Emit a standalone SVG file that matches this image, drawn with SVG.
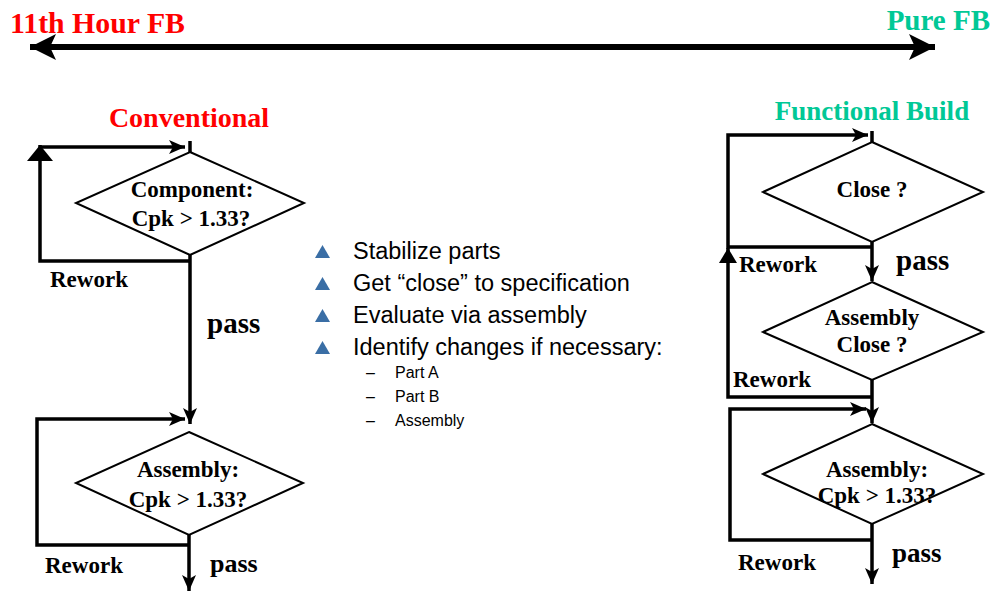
<svg xmlns="http://www.w3.org/2000/svg" width="994" height="592" viewBox="0 0 994 592">
<style>
.b{font-family:"Liberation Serif","Times New Roman",serif;font-weight:bold;fill:#000}
.s{font-family:"Liberation Sans",Arial,sans-serif;fill:#000}
.c{text-anchor:middle}
.ln{fill:none;stroke:#000;stroke-width:3.5}
.dm{fill:#fff;stroke:#000;stroke-width:2}
.tri{fill:#3A6EA5}
</style>
<defs>
<marker id="ah" viewBox="0 0 16 14" refX="16" refY="7" markerWidth="16" markerHeight="14" markerUnits="userSpaceOnUse" orient="auto"><path d="M0,0 L16,7 L0,14 L4,7 z" fill="#000"/></marker>
<marker id="mid" viewBox="0 0 15 18" refX="15" refY="9" markerWidth="15" markerHeight="18" markerUnits="userSpaceOnUse" orient="auto"><path d="M0,0 L15,9 L0,18 z" fill="#000"/></marker>
<marker id="big" viewBox="0 0 16 26" refX="16" refY="13" markerWidth="16" markerHeight="26" markerUnits="userSpaceOnUse" orient="auto"><path d="M0,0 L16,13 L0,26 z" fill="#000"/></marker>
<marker id="dbl" viewBox="0 0 26 26" refX="26" refY="13" markerWidth="26" markerHeight="26" markerUnits="userSpaceOnUse" orient="auto-start-reverse"><path d="M0,0 L26,13 L0,26 L6,13 z" fill="#000"/></marker>
</defs>
<text class="b" x="10" y="33" font-size="29" style="fill:#FF0000" textLength="175" lengthAdjust="spacingAndGlyphs">11th Hour FB</text>
<text class="b" x="990" y="30" font-size="29" style="fill:#00C896;text-anchor:end">Pure FB</text>
<g id="connectors">
<path d="M30,47 H935" fill="none" stroke="#000" stroke-width="6" marker-start="url(#dbl)" marker-end="url(#dbl)"/>
<path class="ln" d="M190,261 H40 V145" marker-end="url(#big)"/>
<path class="ln" d="M40,147 H185" marker-end="url(#ah)"/>
<path class="ln" d="M190,141 V152" stroke-width="2.5"/>
<path class="ln" d="M190,255 V424" stroke-width="3" marker-end="url(#ah)"/>
<path class="ln" d="M190,545 H37 V419 H185" marker-end="url(#ah)"/>
<path class="ln" d="M189,535 V591" stroke-width="3" marker-end="url(#ah)"/>
<path class="ln" d="M872,247 H728 V135 H868" marker-end="url(#ah)"/>
<path class="ln" d="M872,131 V142" stroke-width="2.5"/>
<path class="ln" d="M872,242 V281" stroke-width="3" marker-end="url(#ah)"/>
<path class="ln" d="M872,397 H728 V248" marker-end="url(#mid)"/>
<path class="ln" d="M872,380 V423" stroke-width="3" marker-end="url(#ah)"/>
<path class="ln" d="M872,540 H730 V409 H866" marker-end="url(#ah)"/>
<path class="ln" d="M872,524 V584" stroke-width="3" marker-end="url(#ah)"/>
</g>
<g id="conventional-title"><text class="b c" x="189" y="127" font-size="28" style="fill:#FF0000">Conventional</text></g>
<g id="component-check">
<polygon class="dm" points="190,152 304,203 190,255 76,203"/>
<text class="b c" x="192" y="197" font-size="23">Component:</text>
<text class="b c" x="191" y="226" font-size="23">Cpk &gt; 1.33?</text>
</g>
<g id="rework-1"><text class="b" x="50" y="287" font-size="23">Rework</text></g>
<g id="pass-1"><text class="b" x="207" y="333" font-size="29">pass</text></g>
<g id="assembly-check-left">
<polygon class="dm" points="189,432 303,483 189,535 76,483"/>
<text class="b c" x="188" y="477" font-size="23">Assembly:</text>
<text class="b c" x="188" y="507" font-size="23">Cpk &gt; 1.33?</text>
</g>
<g id="rework-2"><text class="b" x="45" y="573" font-size="23">Rework</text></g>
<g id="pass-2"><text class="b" x="210" y="572" font-size="26">pass</text></g>
<g id="bullets">
<polygon class="tri" points="315,258 330,258 322.5,245"/>
<text class="s" x="353" y="259" font-size="23.5">Stabilize parts</text>
<polygon class="tri" points="315,290 330,290 322.5,277"/>
<text class="s" x="353" y="291" font-size="23.5">Get “close” to specification</text>
<polygon class="tri" points="315,322 330,322 322.5,309"/>
<text class="s" x="353" y="323" font-size="23.5">Evaluate via assembly</text>
<polygon class="tri" points="315,354 330,354 322.5,341"/>
<text class="s" x="353" y="355" font-size="23.5">Identify changes if necessary:</text>
<text class="s" x="366" y="378" font-size="16">–</text>
<text class="s" x="395" y="378" font-size="16">Part A</text>
<text class="s" x="366" y="402" font-size="16">–</text>
<text class="s" x="395" y="402" font-size="16">Part B</text>
<text class="s" x="366" y="426" font-size="16">–</text>
<text class="s" x="395" y="426" font-size="16">Assembly</text>
</g>
<g id="fb-title"><text class="b c" x="872" y="120" font-size="27" style="fill:#00C896">Functional Build</text></g>
<g id="close-check">
<polygon class="dm" points="872,142 983,192 872,242 763,192"/>
<text class="b c" x="872" y="197" font-size="23">Close ?</text>
</g>
<g id="rework-3"><text class="b" x="739" y="272" font-size="23">Rework</text></g>
<g id="pass-3"><text class="b" x="896" y="270" font-size="29">pass</text></g>
<g id="assembly-close-check">
<polygon class="dm" points="872,282 983,332 872,380 763,332"/>
<text class="b c" x="872" y="325" font-size="23">Assembly</text>
<text class="b c" x="872" y="352" font-size="23">Close ?</text>
</g>
<g id="rework-4"><text class="b" x="733" y="387" font-size="23">Rework</text></g>
<g id="assembly-check-right">
<polygon class="dm" points="872,424 983,474 872,524 763,474"/>
<text class="b c" x="877" y="477" font-size="23">Assembly:</text>
<text class="b c" x="877" y="503" font-size="23">Cpk &gt; 1.33?</text>
</g>
<g id="rework-5"><text class="b" x="738" y="570" font-size="23">Rework</text></g>
<g id="pass-4"><text class="b" x="892" y="562" font-size="27">pass</text></g>
</svg>
